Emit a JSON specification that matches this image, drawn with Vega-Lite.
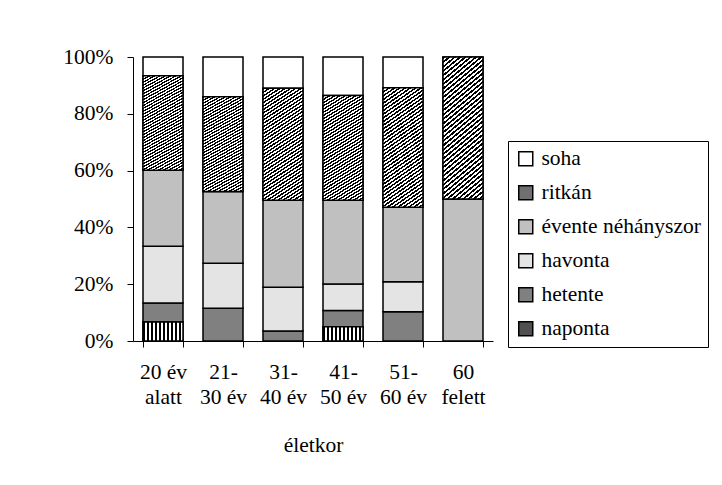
{
  "$schema": "https://vega.github.io/schema/vega-lite/v6.json",
  "width": 360,
  "height": 284,
  "autosize": "none",
  "padding": {"left": 133, "top": 57, "right": 229, "bottom": 144},
  "background": "white",
  "data": {"values": [
    {"korcsoport": "20 év alatt", "gyakorisag": "naponta", "kod": 1, "arany": 6.7},
    {"korcsoport": "20 év alatt", "gyakorisag": "hetente", "kod": 2, "arany": 6.7},
    {"korcsoport": "20 év alatt", "gyakorisag": "havonta", "kod": 3, "arany": 20.0},
    {"korcsoport": "20 év alatt", "gyakorisag": "évente néhányszor", "kod": 4, "arany": 26.7},
    {"korcsoport": "20 év alatt", "gyakorisag": "ritkán", "kod": 5, "arany": 33.3},
    {"korcsoport": "20 év alatt", "gyakorisag": "soha", "kod": 6, "arany": 6.6},
    {"korcsoport": "21-30 év", "gyakorisag": "hetente", "kod": 2, "arany": 11.5},
    {"korcsoport": "21-30 év", "gyakorisag": "havonta", "kod": 3, "arany": 15.9},
    {"korcsoport": "21-30 év", "gyakorisag": "évente néhányszor", "kod": 4, "arany": 25.2},
    {"korcsoport": "21-30 év", "gyakorisag": "ritkán", "kod": 5, "arany": 33.4},
    {"korcsoport": "21-30 év", "gyakorisag": "soha", "kod": 6, "arany": 14.0},
    {"korcsoport": "31-40 év", "gyakorisag": "hetente", "kod": 2, "arany": 3.5},
    {"korcsoport": "31-40 év", "gyakorisag": "havonta", "kod": 3, "arany": 15.4},
    {"korcsoport": "31-40 év", "gyakorisag": "évente néhányszor", "kod": 4, "arany": 30.7},
    {"korcsoport": "31-40 év", "gyakorisag": "ritkán", "kod": 5, "arany": 39.4},
    {"korcsoport": "31-40 év", "gyakorisag": "soha", "kod": 6, "arany": 11.0},
    {"korcsoport": "41-50 év", "gyakorisag": "naponta", "kod": 1, "arany": 5.0},
    {"korcsoport": "41-50 év", "gyakorisag": "hetente", "kod": 2, "arany": 5.7},
    {"korcsoport": "41-50 év", "gyakorisag": "havonta", "kod": 3, "arany": 9.4},
    {"korcsoport": "41-50 év", "gyakorisag": "évente néhányszor", "kod": 4, "arany": 29.5},
    {"korcsoport": "41-50 év", "gyakorisag": "ritkán", "kod": 5, "arany": 36.8},
    {"korcsoport": "41-50 év", "gyakorisag": "soha", "kod": 6, "arany": 13.6},
    {"korcsoport": "51-60 év", "gyakorisag": "hetente", "kod": 2, "arany": 10.3},
    {"korcsoport": "51-60 év", "gyakorisag": "havonta", "kod": 3, "arany": 10.6},
    {"korcsoport": "51-60 év", "gyakorisag": "évente néhányszor", "kod": 4, "arany": 26.2},
    {"korcsoport": "51-60 év", "gyakorisag": "ritkán", "kod": 5, "arany": 42.1},
    {"korcsoport": "51-60 év", "gyakorisag": "soha", "kod": 6, "arany": 10.8},
    {"korcsoport": "60 felett", "gyakorisag": "évente néhányszor", "kod": 4, "arany": 50.0},
    {"korcsoport": "60 felett", "gyakorisag": "ritkán", "kod": 5, "arany": 50.0}
  ]},
  "transform": [
    {"stack": "arany", "groupby": ["korcsoport"], "sort": [{"field": "kod", "order": "ascending"}], "as": ["y0", "y1"]}
  ],
  "encoding": {
    "x": {
      "field": "korcsoport", "type": "nominal",
      "sort": ["20 év alatt", "21-30 év", "31-40 év", "41-50 év", "51-60 év", "60 felett"],
      "scale": {"paddingInner": 0.3333, "paddingOuter": 0.1667},
      "axis": {
        "title": "életkor", "titleFontSize": 21.5, "titleFontWeight": "normal", "titleFont": "Liberation Serif", "titleColor": "#000", "titlePadding": 27,
        "labelAngle": 0, "labelFontSize": 21.5, "labelFont": "Liberation Serif", "labelColor": "#000",
        "labelPadding": 14, "labelLineHeight": 25,
        "labelExpr": "datum.label == '20 év alatt' ? ['20 év', 'alatt'] : datum.label == '60 felett' ? ['60', 'felett'] : [slice(datum.label, 0, 3), slice(datum.label, 3)]",
        "tickBand": "extent", "tickSize": 6, "tickColor": "#000", "domainColor": "#000", "grid": false
      }
    },
    "y": {
      "field": "y1", "type": "quantitative",
      "scale": {"domain": [0, 100], "nice": false},
      "axis": {
        "title": null, "values": [0, 20, 40, 60, 80, 100],
        "labelExpr": "datum.value + '%'", "labelFontSize": 21.5, "labelFont": "Liberation Serif", "labelColor": "#000",
        "labelPadding": 14, "tickSize": 6, "tickColor": "#000", "domainColor": "#000", "grid": false
      }
    },
    "y2": {"field": "y0"}
  },
  "layer": [
    {
      "mark": {"type": "bar", "stroke": "#000", "strokeWidth": 1.5},
      "encoding": {
        "color": {
          "field": "gyakorisag", "type": "nominal",
          "scale": {
            "domain": ["soha", "ritkán", "évente néhányszor", "havonta", "hetente", "naponta"],
            "range": ["#ffffff", "#707070", "#c0c0c0", "#e4e4e4", "#808080", "#505050"]
          },
          "legend": {
            "title": null, "orient": "none", "legendX": 375, "legendY": 84,
            "strokeColor": "#000", "padding": 7,
            "labelFontSize": 21.5, "labelFont": "Liberation Serif", "labelColor": "#000", "labelOffset": 5,
            "symbolType": "square", "symbolSize": 196, "symbolStrokeColor": "#000", "symbolStrokeWidth": 1.5,
            "rowPadding": 11,
            "encode": {"symbols": {"update": {
              "stroke": {"value": "#000"},
              "strokeWidth": {"value": 1.5},
              "fill": {"value": {"expr": "datum.label === 'ritkán' ? {gradient: 'linear', x1: 0, y1: 0, x2: 1, y2: 1, stops: [{offset: 0, color: '#000'}, {offset: 0.083, color: '#000'}, {offset: 0.083, color: '#fff'}, {offset: 0.167, color: '#fff'}, {offset: 0.167, color: '#000'}, {offset: 0.25, color: '#000'}, {offset: 0.25, color: '#fff'}, {offset: 0.333, color: '#fff'}, {offset: 0.333, color: '#000'}, {offset: 0.417, color: '#000'}, {offset: 0.417, color: '#fff'}, {offset: 0.5, color: '#fff'}, {offset: 0.5, color: '#000'}, {offset: 0.583, color: '#000'}, {offset: 0.583, color: '#fff'}, {offset: 0.667, color: '#fff'}, {offset: 0.667, color: '#000'}, {offset: 0.75, color: '#000'}, {offset: 0.75, color: '#fff'}, {offset: 0.833, color: '#fff'}, {offset: 0.833, color: '#000'}, {offset: 0.917, color: '#000'}, {offset: 0.917, color: '#fff'}, {offset: 1, color: '#fff'}]} : datum.label === 'naponta' ? {gradient: 'linear', x1: 0, y1: 0, x2: 1, y2: 0, stops: [{offset: 0, color: '#000'}, {offset: 0.2, color: '#000'}, {offset: 0.2, color: '#fff'}, {offset: 0.28, color: '#fff'}, {offset: 0.28, color: '#000'}, {offset: 0.46, color: '#000'}, {offset: 0.46, color: '#fff'}, {offset: 0.54, color: '#fff'}, {offset: 0.54, color: '#000'}, {offset: 0.72, color: '#000'}, {offset: 0.72, color: '#fff'}, {offset: 0.8, color: '#fff'}, {offset: 0.8, color: '#000'}, {offset: 1, color: '#000'}]} : scale('color', datum.value)"}}
            }}}
          }
        }
      }
    },
    {
      "transform": [{"filter": "datum.gyakorisag == 'ritkán'"}],
      "mark": {"type": "bar", "stroke": "#000", "strokeWidth": 1.5, "fill": {"gradient": "linear", "x1": 0, "y1": 0, "x2": 0.2725, "y2": 1.1697, "stops": [
            {"offset":0,"color":"#000"},{"offset":0.0125,"color":"#000"},{"offset":0.0125,"color":"#fff"},{"offset":0.025,"color":"#fff"},
            {"offset":0.025,"color":"#000"},{"offset":0.0375,"color":"#000"},{"offset":0.0375,"color":"#fff"},{"offset":0.05,"color":"#fff"},
            {"offset":0.05,"color":"#000"},{"offset":0.0625,"color":"#000"},{"offset":0.0625,"color":"#fff"},{"offset":0.075,"color":"#fff"},
            {"offset":0.075,"color":"#000"},{"offset":0.0875,"color":"#000"},{"offset":0.0875,"color":"#fff"},{"offset":0.1,"color":"#fff"},
            {"offset":0.1,"color":"#000"},{"offset":0.1125,"color":"#000"},{"offset":0.1125,"color":"#fff"},{"offset":0.125,"color":"#fff"},
            {"offset":0.125,"color":"#000"},{"offset":0.1375,"color":"#000"},{"offset":0.1375,"color":"#fff"},{"offset":0.15,"color":"#fff"},
            {"offset":0.15,"color":"#000"},{"offset":0.1625,"color":"#000"},{"offset":0.1625,"color":"#fff"},{"offset":0.175,"color":"#fff"},
            {"offset":0.175,"color":"#000"},{"offset":0.1875,"color":"#000"},{"offset":0.1875,"color":"#fff"},{"offset":0.2,"color":"#fff"},
            {"offset":0.2,"color":"#000"},{"offset":0.2125,"color":"#000"},{"offset":0.2125,"color":"#fff"},{"offset":0.225,"color":"#fff"},
            {"offset":0.225,"color":"#000"},{"offset":0.2375,"color":"#000"},{"offset":0.2375,"color":"#fff"},{"offset":0.25,"color":"#fff"},
            {"offset":0.25,"color":"#000"},{"offset":0.2625,"color":"#000"},{"offset":0.2625,"color":"#fff"},{"offset":0.275,"color":"#fff"},
            {"offset":0.275,"color":"#000"},{"offset":0.2875,"color":"#000"},{"offset":0.2875,"color":"#fff"},{"offset":0.3,"color":"#fff"},
            {"offset":0.3,"color":"#000"},{"offset":0.3125,"color":"#000"},{"offset":0.3125,"color":"#fff"},{"offset":0.325,"color":"#fff"},
            {"offset":0.325,"color":"#000"},{"offset":0.3375,"color":"#000"},{"offset":0.3375,"color":"#fff"},{"offset":0.35,"color":"#fff"},
            {"offset":0.35,"color":"#000"},{"offset":0.3625,"color":"#000"},{"offset":0.3625,"color":"#fff"},{"offset":0.375,"color":"#fff"},
            {"offset":0.375,"color":"#000"},{"offset":0.3875,"color":"#000"},{"offset":0.3875,"color":"#fff"},{"offset":0.4,"color":"#fff"},
            {"offset":0.4,"color":"#000"},{"offset":0.4125,"color":"#000"},{"offset":0.4125,"color":"#fff"},{"offset":0.425,"color":"#fff"},
            {"offset":0.425,"color":"#000"},{"offset":0.4375,"color":"#000"},{"offset":0.4375,"color":"#fff"},{"offset":0.45,"color":"#fff"},
            {"offset":0.45,"color":"#000"},{"offset":0.4625,"color":"#000"},{"offset":0.4625,"color":"#fff"},{"offset":0.475,"color":"#fff"},
            {"offset":0.475,"color":"#000"},{"offset":0.4875,"color":"#000"},{"offset":0.4875,"color":"#fff"},{"offset":0.5,"color":"#fff"},
            {"offset":0.5,"color":"#000"},{"offset":0.5125,"color":"#000"},{"offset":0.5125,"color":"#fff"},{"offset":0.525,"color":"#fff"},
            {"offset":0.525,"color":"#000"},{"offset":0.5375,"color":"#000"},{"offset":0.5375,"color":"#fff"},{"offset":0.55,"color":"#fff"},
            {"offset":0.55,"color":"#000"},{"offset":0.5625,"color":"#000"},{"offset":0.5625,"color":"#fff"},{"offset":0.575,"color":"#fff"},
            {"offset":0.575,"color":"#000"},{"offset":0.5875,"color":"#000"},{"offset":0.5875,"color":"#fff"},{"offset":0.6,"color":"#fff"},
            {"offset":0.6,"color":"#000"},{"offset":0.6125,"color":"#000"},{"offset":0.6125,"color":"#fff"},{"offset":0.625,"color":"#fff"},
            {"offset":0.625,"color":"#000"},{"offset":0.6375,"color":"#000"},{"offset":0.6375,"color":"#fff"},{"offset":0.65,"color":"#fff"},
            {"offset":0.65,"color":"#000"},{"offset":0.6625,"color":"#000"},{"offset":0.6625,"color":"#fff"},{"offset":0.675,"color":"#fff"},
            {"offset":0.675,"color":"#000"},{"offset":0.6875,"color":"#000"},{"offset":0.6875,"color":"#fff"},{"offset":0.7,"color":"#fff"},
            {"offset":0.7,"color":"#000"},{"offset":0.7125,"color":"#000"},{"offset":0.7125,"color":"#fff"},{"offset":0.725,"color":"#fff"},
            {"offset":0.725,"color":"#000"},{"offset":0.7375,"color":"#000"},{"offset":0.7375,"color":"#fff"},{"offset":0.75,"color":"#fff"},
            {"offset":0.75,"color":"#000"},{"offset":0.7625,"color":"#000"},{"offset":0.7625,"color":"#fff"},{"offset":0.775,"color":"#fff"},
            {"offset":0.775,"color":"#000"},{"offset":0.7875,"color":"#000"},{"offset":0.7875,"color":"#fff"},{"offset":0.8,"color":"#fff"},
            {"offset":0.8,"color":"#000"},{"offset":0.8125,"color":"#000"},{"offset":0.8125,"color":"#fff"},{"offset":0.825,"color":"#fff"},
            {"offset":0.825,"color":"#000"},{"offset":0.8375,"color":"#000"},{"offset":0.8375,"color":"#fff"},{"offset":0.85,"color":"#fff"},
            {"offset":0.85,"color":"#000"},{"offset":0.8625,"color":"#000"},{"offset":0.8625,"color":"#fff"},{"offset":0.875,"color":"#fff"},
            {"offset":0.875,"color":"#000"},{"offset":0.8875,"color":"#000"},{"offset":0.8875,"color":"#fff"},{"offset":0.9,"color":"#fff"},
            {"offset":0.9,"color":"#000"},{"offset":0.9125,"color":"#000"},{"offset":0.9125,"color":"#fff"},{"offset":0.925,"color":"#fff"},
            {"offset":0.925,"color":"#000"},{"offset":0.9375,"color":"#000"},{"offset":0.9375,"color":"#fff"},{"offset":0.95,"color":"#fff"},
            {"offset":0.95,"color":"#000"},{"offset":0.9625,"color":"#000"},{"offset":0.9625,"color":"#fff"},{"offset":0.975,"color":"#fff"},
            {"offset":0.975,"color":"#000"},{"offset":0.9875,"color":"#000"},{"offset":0.9875,"color":"#fff"},{"offset":1,"color":"#fff"}
          ]}}
    },
    {
      "transform": [{"filter": "datum.gyakorisag == 'naponta'"}],
      "mark": {"type": "bar", "stroke": "#000", "strokeWidth": 1.5, "fill": {"gradient": "linear", "x1": 0, "y1": 0, "x2": 1, "y2": 0, "stops": [
            {"offset":0,"color":"#000"},{"offset":0.05,"color":"#000"},{"offset":0.05,"color":"#fff"},{"offset":0.1,"color":"#fff"},
            {"offset":0.1,"color":"#000"},{"offset":0.15,"color":"#000"},{"offset":0.15,"color":"#fff"},{"offset":0.2,"color":"#fff"},
            {"offset":0.2,"color":"#000"},{"offset":0.25,"color":"#000"},{"offset":0.25,"color":"#fff"},{"offset":0.3,"color":"#fff"},
            {"offset":0.3,"color":"#000"},{"offset":0.35,"color":"#000"},{"offset":0.35,"color":"#fff"},{"offset":0.4,"color":"#fff"},
            {"offset":0.4,"color":"#000"},{"offset":0.45,"color":"#000"},{"offset":0.45,"color":"#fff"},{"offset":0.5,"color":"#fff"},
            {"offset":0.5,"color":"#000"},{"offset":0.55,"color":"#000"},{"offset":0.55,"color":"#fff"},{"offset":0.6,"color":"#fff"},
            {"offset":0.6,"color":"#000"},{"offset":0.65,"color":"#000"},{"offset":0.65,"color":"#fff"},{"offset":0.7,"color":"#fff"},
            {"offset":0.7,"color":"#000"},{"offset":0.75,"color":"#000"},{"offset":0.75,"color":"#fff"},{"offset":0.8,"color":"#fff"},
            {"offset":0.8,"color":"#000"},{"offset":0.85,"color":"#000"},{"offset":0.85,"color":"#fff"},{"offset":0.9,"color":"#fff"},
            {"offset":0.9,"color":"#000"},{"offset":0.95,"color":"#000"},{"offset":0.95,"color":"#fff"},{"offset":1,"color":"#fff"}
          ]}}
    }
  ],
  "config": {"view": {"stroke": null}, "font": "Liberation Serif"}
}
